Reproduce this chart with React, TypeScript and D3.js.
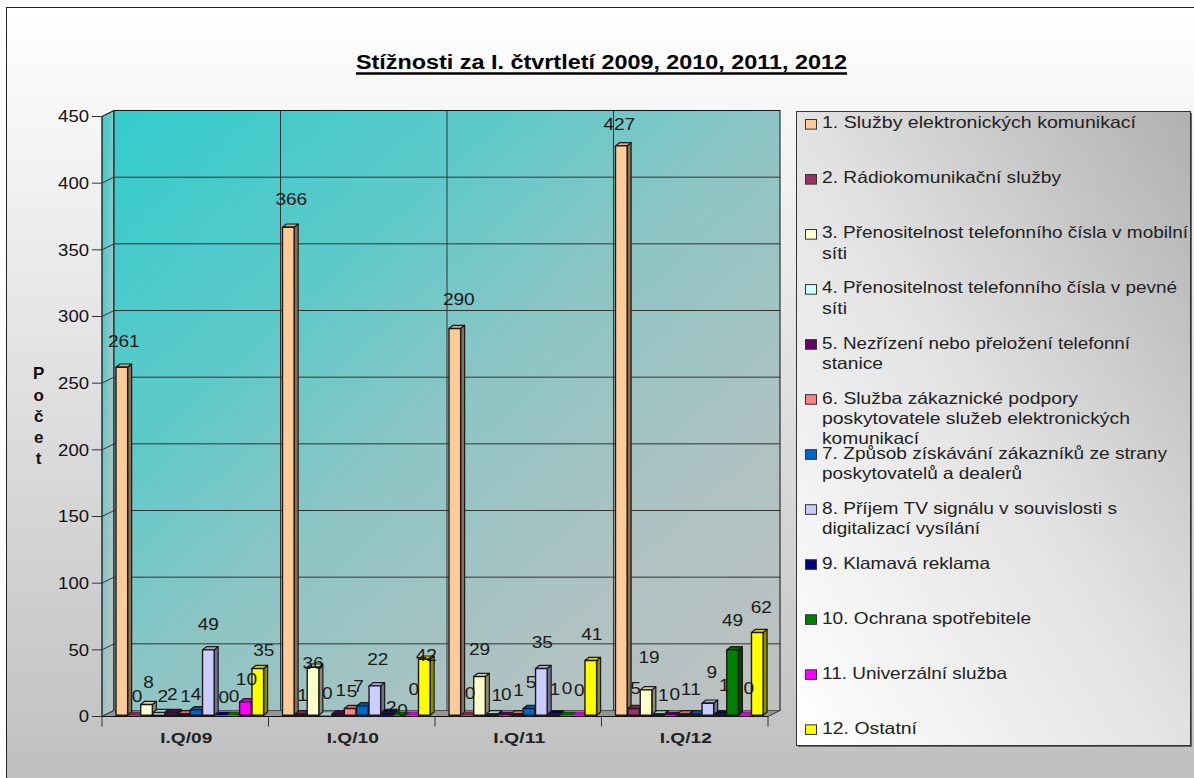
import React from "react";
import * as d3 from "d3";

const TITLE = "Stížnosti za I. čtvrtletí 2009, 2010, 2011, 2012";
const AXIS_TITLE = ["P", "o", "č", "e", "t"];
const categories = ["I.Q/09", "I.Q/10", "I.Q/11", "I.Q/12"];
const yTicks = [0, 50, 100, 150, 200, 250, 300, 350, 400, 450];

const s01 = [261, 366, 290, 427];
const s02 = [0, 1, 0, 5];
const s03 = [8, 36, 29, 19];
const s04 = [2, 0, 1, 1];
const s05 = [2, 1, 0, 0];
const s06 = [1, 5, 1, 1];
const s07 = [4, 7, 5, 1];
const s08 = [49, 22, 35, 9];
const s09 = [0, 2, 1, 1];
const s10 = [0, 0, 0, 49];
const s11 = [10, 0, 0, 0];
const s12 = [35, 42, 41, 62];
const seriesValues = [s01, s02, s03, s04, s05, s06, s07, s08, s09, s10, s11, s12];

const seriesFill = ["#ffcc99", "#993366", "#ffffcc", "#ccffff", "#660066", "#ff8080", "#0066cc", "#ccccff", "#000080", "#008000", "#ff00ff", "#ffff00"];
const seriesSide = ["#8c7054", "#541c38", "#8c8c70", "#708c8c", "#380038", "#8c4646", "#003870", "#707090", "#000046", "#004600", "#8c008c", "#8c8c00"];

const legendLines = [
  ["1. Služby elektronických komunikací"],
  ["2. Rádiokomunikační služby"],
  ["3. Přenositelnost telefonního čísla v mobilní", "síti"],
  ["4. Přenositelnost telefonního čísla v pevné", "síti"],
  ["5. Nezřízení nebo přeložení telefonní", "stanice"],
  ["6. Služba zákaznické podpory", "poskytovatele služeb elektronických", "komunikací"],
  ["7. Způsob získávání zákazníků ze strany", "poskytovatelů a dealerů"],
  ["8. Příjem TV signálu v souvislosti s", "digitalizací vysílání"],
  ["9. Klamavá reklama"],
  ["10. Ochrana spotřebitele"],
  ["11. Univerzální služba"],
  ["12. Ostatní"],
];
// Rendered width of each legend line in the layout
const legendLineWidths = [[314], [239], [366, 25], [355, 25], [308, 61], [256, 308, 97], [345, 200], [295, 158], [168], [209], [185], [95]];

// Hand placement of the value labels, per category then series: [shift right, lift above bar]
const labelNudge = [
  [[2, 26], [3, 19], [2, 23], [4, 17], [1, 19], [2, 18], [0, 16], [0, 26], [3, 18], [1, 19], [1, 23], [6, 19]],
  [[3, 28], [2, 19], [0, 4], [2, 22], [3, 24], [2, 18], [-4, 20], [3, 27], [4, 6], [3, 5], [2, 26], [2, 4]],
  [[4, 30], [3, 22], [0, 28], [5, 19], [2, 21], [2, 24], [2, 27], [1, 27], [1, 25], [1, 27], [1, 25], [1, 27]],
  [[-2, 22], [2, 21], [3, 33], [5, 19], [4, 21], [3, 25], [0, 25], [4, 31], [4, 29], [0, 30], [4, 27], [4, 26]],
];

const FONT = "'Liberation Sans', Arial, sans-serif";
const W = 1194, H = 778;
const X0 = 102, X1 = 768, Y0 = 716.5, Y1 = 116.5;
const DX = 12, DY = -6;
const BAR_DX = 4, BAR_DY = -3.2;

const x = d3.scaleBand<string>().domain(categories).range([X0, X1]);
const y = d3.scaleLinear().domain([0, 450]).range([Y0, Y1]);
const inner = d3.scaleBand<number>().domain(d3.range(12)).range([14, 14 + 147.6]).paddingInner(0.06).paddingOuter(0);

const poly = (pts: number[][]) => "M" + pts.map((p) => p.join(",")).join("L") + "Z";

export default function App() {
  const legendTop = 124.2;
  const legendStep = 55.03;
  return (
    <svg width={W} height={H} viewBox={`0 0 ${W} ${H}`} style={{ position: "absolute", left: 0, top: 0, display: "block" }} fontFamily={FONT}>
      <defs>
        <linearGradient id="page" x1="0" y1="0" x2="0" y2="1">
          <stop offset="0" stopColor="#ffffff" />
          <stop offset="1" stopColor="#bfbfbf" />
        </linearGradient>
        <linearGradient id="wall" x1="0" y1="0" x2="1" y2="1">
          <stop offset="0" stopColor="#33cccc" />
          <stop offset="0.3" stopColor="#5fc9c9" />
          <stop offset="0.5" stopColor="#8dc5c5" />
          <stop offset="0.75" stopColor="#aec2c2" />
          <stop offset="1" stopColor="#c0c0c0" />
        </linearGradient>
        <linearGradient id="legend" x1="0" y1="1" x2="1" y2="0">
          <stop offset="0" stopColor="#ffffff" />
          <stop offset="0.5" stopColor="#e2e2e2" />
          <stop offset="1" stopColor="#b0b0b0" />
        </linearGradient>
      </defs>
      <rect width={W} height={H} fill="#ffffff" />
      <rect x={6.5} y={7.5} width={W} height={H} fill="url(#page)" stroke="#222" strokeWidth={1} />

      <text x={601.5} y={69} textAnchor="middle" fontSize={20} fontWeight="bold" fill="#000" textLength={491} lengthAdjust="spacingAndGlyphs">{TITLE}</text>
      <line x1={356} x2={847} y1={73.5} y2={73.5} stroke="#000" strokeWidth={2.5} />

      {/* walls and floor */}
      <path d={poly([[X0, Y1], [X0 + DX, Y1 + DY], [X0 + DX, Y0 + DY], [X0, Y0]])} fill="url(#wall)" stroke="#222" strokeWidth={1} />
      <rect x={X0 + DX} y={Y1 + DY} width={X1 - X0} height={Y0 - Y1} fill="url(#wall)" stroke="#111" strokeWidth={1} />
      <path d={poly([[X0, Y0], [X0 + DX, Y0 + DY], [X1 + DX, Y0 + DY], [X1, Y0]])} fill="#949494" />
      {yTicks.map((t) => (
        <g key={t} stroke="#333" strokeWidth={1}>
          {t > 0 && t < 450 && <line x1={X0 + DX} x2={X1 + DX} y1={y(t) + DY} y2={y(t) + DY} />}
          <line x1={X0} x2={X0 + DX} y1={y(t)} y2={y(t) + DY} />
          <line x1={X0 - 10} x2={X0} y1={y(t)} y2={y(t)} />
        </g>
      ))}
      {categories.slice(1).map((c) => (
        <line key={c} x1={x(c)! + DX} x2={x(c)! + DX} y1={Y1 + DY} y2={Y0 + DY} stroke="#333" strokeWidth={1} />
      ))}
      <line x1={X0} x2={X0} y1={Y1} y2={Y0} stroke="#333" />
      <line x1={X1} x2={X1 + DX} y1={Y0} y2={Y0 + DY} stroke="#333" />
      <line x1={X0} x2={X1} y1={Y0} y2={Y0} stroke="#111" />
      {[...categories, null].map((c, i) => {
        const px = c ? x(c)! : X1;
        return <line key={i} x1={px} x2={px} y1={Y0} y2={Y0 + 10} stroke="#333" />;
      })}

      {/* tick labels */}
      {yTicks.map((t) => (
        <text key={t} x={89} y={y(t) + 5.8} textAnchor="end" fontSize={16} fill="#111" textLength={String(t).length * 10.3} lengthAdjust="spacingAndGlyphs">{t}</text>
      ))}
      {categories.map((c) => (
        <text key={c} x={x(c)! + x.bandwidth() / 2 + 1} y={743} textAnchor="middle" fontSize={15.5} fontWeight="bold" fill="#222" textLength={52} lengthAdjust="spacingAndGlyphs">{c}</text>
      ))}
      {AXIS_TITLE.map((ch, i) => (
        <text key={i} x={38.7} y={379.3 + i * 21.2} textAnchor="middle" fontSize={17} fontWeight="bold" fill="#111">{ch}</text>
      ))}

      {/* bars */}
      {categories.map((c, ci) =>
        seriesValues.map((vals, si) => {
          const v = vals[ci];
          const bx = x(c)! + inner(si)!;
          const bw = inner.bandwidth();
          const base = y(0) - 1.3;
          const top = base - (y(0) - y(v));
          const r = bx + bw;
          const light = d3.color(seriesFill[si])!.darker(0.5).formatHex();
          return (
            <g key={si} stroke="#1a1a1a" strokeWidth={1} strokeLinejoin="round">
              <path d={poly([[r, top], [r + BAR_DX, top + BAR_DY], [r + BAR_DX, base + BAR_DY], [r, base]])} fill={seriesSide[si]} strokeWidth={v === 0 ? 0.4 : 1.2} />
              <path d={poly([[bx, top], [bx + BAR_DX, top + BAR_DY], [r + BAR_DX, top + BAR_DY], [r, top]])} fill={light} strokeWidth={v === 0 ? 0.4 : 1.2} />
              <rect x={bx} y={top} width={bw} height={base - top} fill={seriesFill[si]} strokeWidth={v === 0 ? 0 : 1.4} />
            </g>
          );
        })
      )}

      {/* value labels */}
      {categories.map((c, ci) =>
        seriesValues.map((vals, si) => {
          const v = vals[ci];
          const cx = x(c)! + inner(si)! + inner.bandwidth() / 2;
          const top = y(0) - 1.3 - (y(0) - y(v));
          const [dx, lift] = labelNudge[ci][si];
          return (
            <text key={si} x={cx + dx} y={top - lift + 6} textAnchor="middle" fontSize={16.5} fill="#1a1a1a" textLength={String(v).length * 10.6} lengthAdjust="spacingAndGlyphs">{v}</text>
          );
        })
      )}

      {/* legend */}
      <rect x={798} y={113} width={394} height={634} fill="#666" />
      <rect x={796.5} y={111.5} width={394} height={634} fill="url(#legend)" stroke="#333" strokeWidth={1} />
      {legendLines.map((lines, i) => {
        const cy = legendTop + i * legendStep;
        return (
          <g key={i}>
            <rect x={805.5} y={cy - 4.7} width={11} height={9.6} fill={seriesFill[i]} stroke="#333" strokeWidth={1} />
            {lines.map((l, j) => (
              <text key={j} x={822} y={cy + 4.2 + j * 20.2} fontSize={16.5} fill="#222" textLength={legendLineWidths[i][j]} lengthAdjust="spacingAndGlyphs">{l}</text>
            ))}
          </g>
        );
      })}
    </svg>
  );
}
